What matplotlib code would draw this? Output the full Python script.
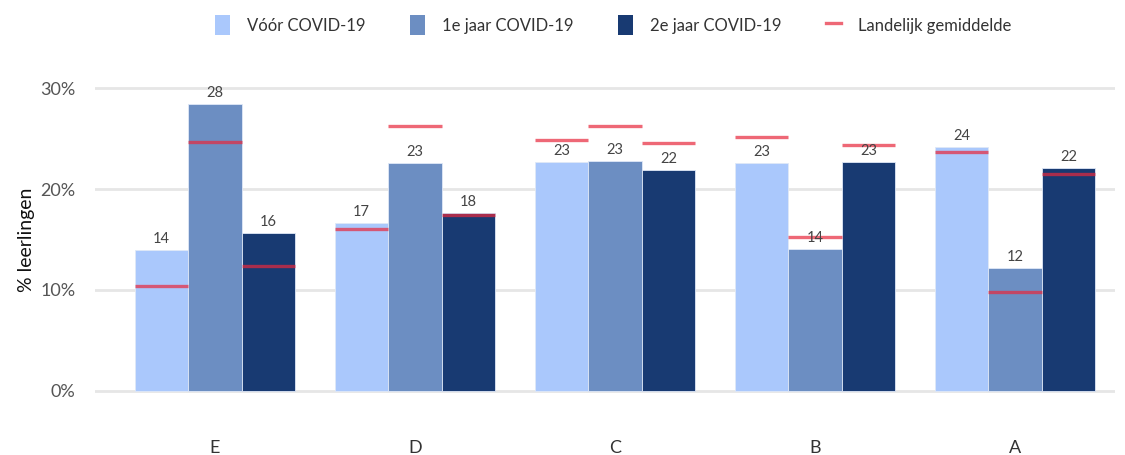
import matplotlib.pyplot as plt
import numpy as np
from matplotlib.lines import Line2D
from matplotlib.patches import Patch

plt.rcParams["font.family"] = ["Lato", "DejaVu Sans"]

niveaus = ["E", "D", "C", "B", "A"]
periodes = ["Vóór COVID-19", "1e jaar COVID-19", "2e jaar COVID-19"]

voor = [14.0, 16.6, 22.7, 22.6, 24.2]
jaar1 = [28.4, 22.6, 22.8, 14.1, 12.2]
jaar2 = [15.6, 17.6, 21.9, 22.7, 22.1]

gem_voor = [10.4, 16.0, 24.85, 25.15, 23.7]
gem_jaar1 = [24.65, 26.2, 26.2, 15.25, 9.8]
gem_jaar2 = [12.4, 17.4, 24.55, 24.35, 21.5]

kleuren = ["#aac8fc", "#6c8ec2", "#183a72"]
rood = "#e8283c"

fig = plt.figure(figsize=(11.25, 4.55), dpi=100)
ax = fig.add_axes([95 / 1125, 55 / 455, 1020 / 1125, 320 / 455])

x = np.arange(len(niveaus))
w = 0.8 / 3
for i, (vals, gem) in enumerate(zip([voor, jaar1, jaar2], [gem_voor, gem_jaar1, gem_jaar2])):
    pos = x + (i - 1) * w
    ax.bar(pos, vals, width=w, color=kleuren[i], edgecolor="#dfe8f7",
           linewidth=0.6, zorder=2)
    ax.hlines(gem, pos - w / 2, pos + w / 2, color=rood, alpha=0.7,
              linewidth=2.4, zorder=3)
    for p, v in zip(pos, vals):
        ax.text(p, v + 0.4, f"{round(v):d}", ha="center", va="bottom",
                fontsize=10.5, color="#444444", zorder=4)

ax.set_xlim(-0.6, 4.5)
ax.set_ylim(-0.9, 30.8)
ax.set_yticks([0, 10, 20, 30])
ax.set_yticklabels(["0%", "10%", "20%", "30%"])
ax.set_xticks(x)
ax.set_xticklabels(niveaus)
ax.tick_params(axis="y", length=0, labelsize=13, labelcolor="#555555", pad=14)
ax.tick_params(axis="x", length=0, labelsize=13, labelcolor="#333333", pad=29)
ax.grid(axis="y", color="#e6e6e6", linewidth=2, zorder=0)
ax.set_axisbelow(True)
for s in ax.spines.values():
    s.set_visible(False)
ax.set_ylabel("% leerlingen", fontsize=14, color="#111111", labelpad=4)

handles = [Patch(facecolor=c, edgecolor="none") for c in kleuren]
handles.append(Line2D([0], [0], color=rood, alpha=0.7, linewidth=2.4))
labels = periodes + ["Landelijk gemiddelde"]
fig.legend(handles, labels, loc="center", bbox_to_anchor=(0.545, 0.945), ncol=4,
           frameon=False, fontsize=12, handlelength=0.9, handleheight=1.4,
           columnspacing=2.7, handletextpad=1.0, labelcolor="#333333")

fig.savefig("out.png", dpi=100)
